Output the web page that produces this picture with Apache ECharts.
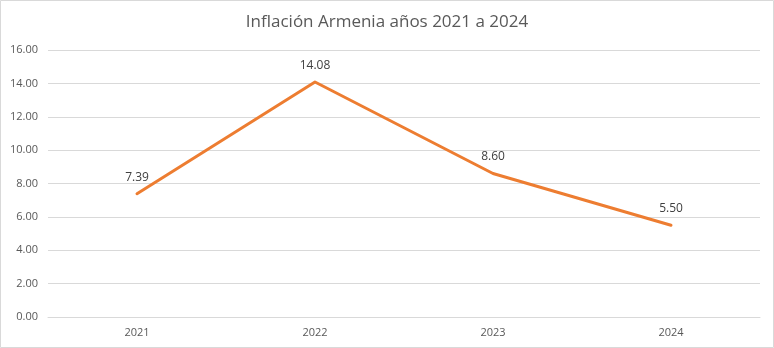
<!DOCTYPE html>
<html>
<head>
<meta charset="utf-8">
<script src="https://cdn.jsdelivr.net/npm/echarts@6/dist/echarts.min.js"></script>
<style>
html,body{margin:0;padding:0;background:#fff;}
#chart{width:774px;height:348px;}
</style>
</head>
<body>
<div id="chart"></div>
<script>
const categories = ['2021', '2022', '2023', '2024'];
const inflation = [7.39, 14.08, 8.60, 5.50];
const titleText = 'Inflación Armenia años 2021 a 2024';

const chart = echarts.init(document.getElementById('chart'), null, {renderer: 'canvas'});
chart.setOption({
  backgroundColor: '#ffffff',
  animation: false,
  title: {
    text: titleText,
    left: 'center',
    top: 9,
    textStyle: {fontFamily: 'Open Sans', fontSize: 17, fontWeight: 'normal', color: '#595959'}
  },
  graphic: [{
    type: 'rect',
    shape: {x: 0.5, y: 0.5, width: 773, height: 347},
    style: {fill: 'none', stroke: '#D9D9D9', lineWidth: 1},
    silent: true
  }],
  grid: {left: 48, right: 14, top: 50, bottom: 31, containLabel: false},
  xAxis: {
    type: 'category',
    data: categories,
    boundaryGap: true,
    axisLine: {show: true, lineStyle: {color: '#D9D9D9', width: 1}},
    axisTick: {show: false},
    axisLabel: {color: '#595959', fontFamily: 'Open Sans', fontSize: 11, margin: 10}
  },
  yAxis: {
    type: 'value',
    min: 0,
    max: 16,
    interval: 2,
    axisLine: {show: false},
    axisTick: {show: false},
    axisLabel: {color: '#595959', fontFamily: 'Open Sans', fontSize: 11, margin: 10,
      formatter: v => v.toFixed(2)},
    splitLine: {lineStyle: {color: '#D9D9D9', width: 1}}
  },
  series: [{
    type: 'line',
    data: inflation,
    symbol: 'circle',
    symbolSize: 1,
    showSymbol: true,
    lineStyle: {color: '#ED7D31', width: 3, cap: 'round', join: 'round'},
    itemStyle: {color: '#ED7D31'},
    label: {
      show: true,
      position: 'top',
      distance: 10,
      color: '#404040',
      fontFamily: 'Open Sans',
      fontSize: 12,
      formatter: p => p.value.toFixed(2)
    }
  }]
});
</script>
</body>
</html>
